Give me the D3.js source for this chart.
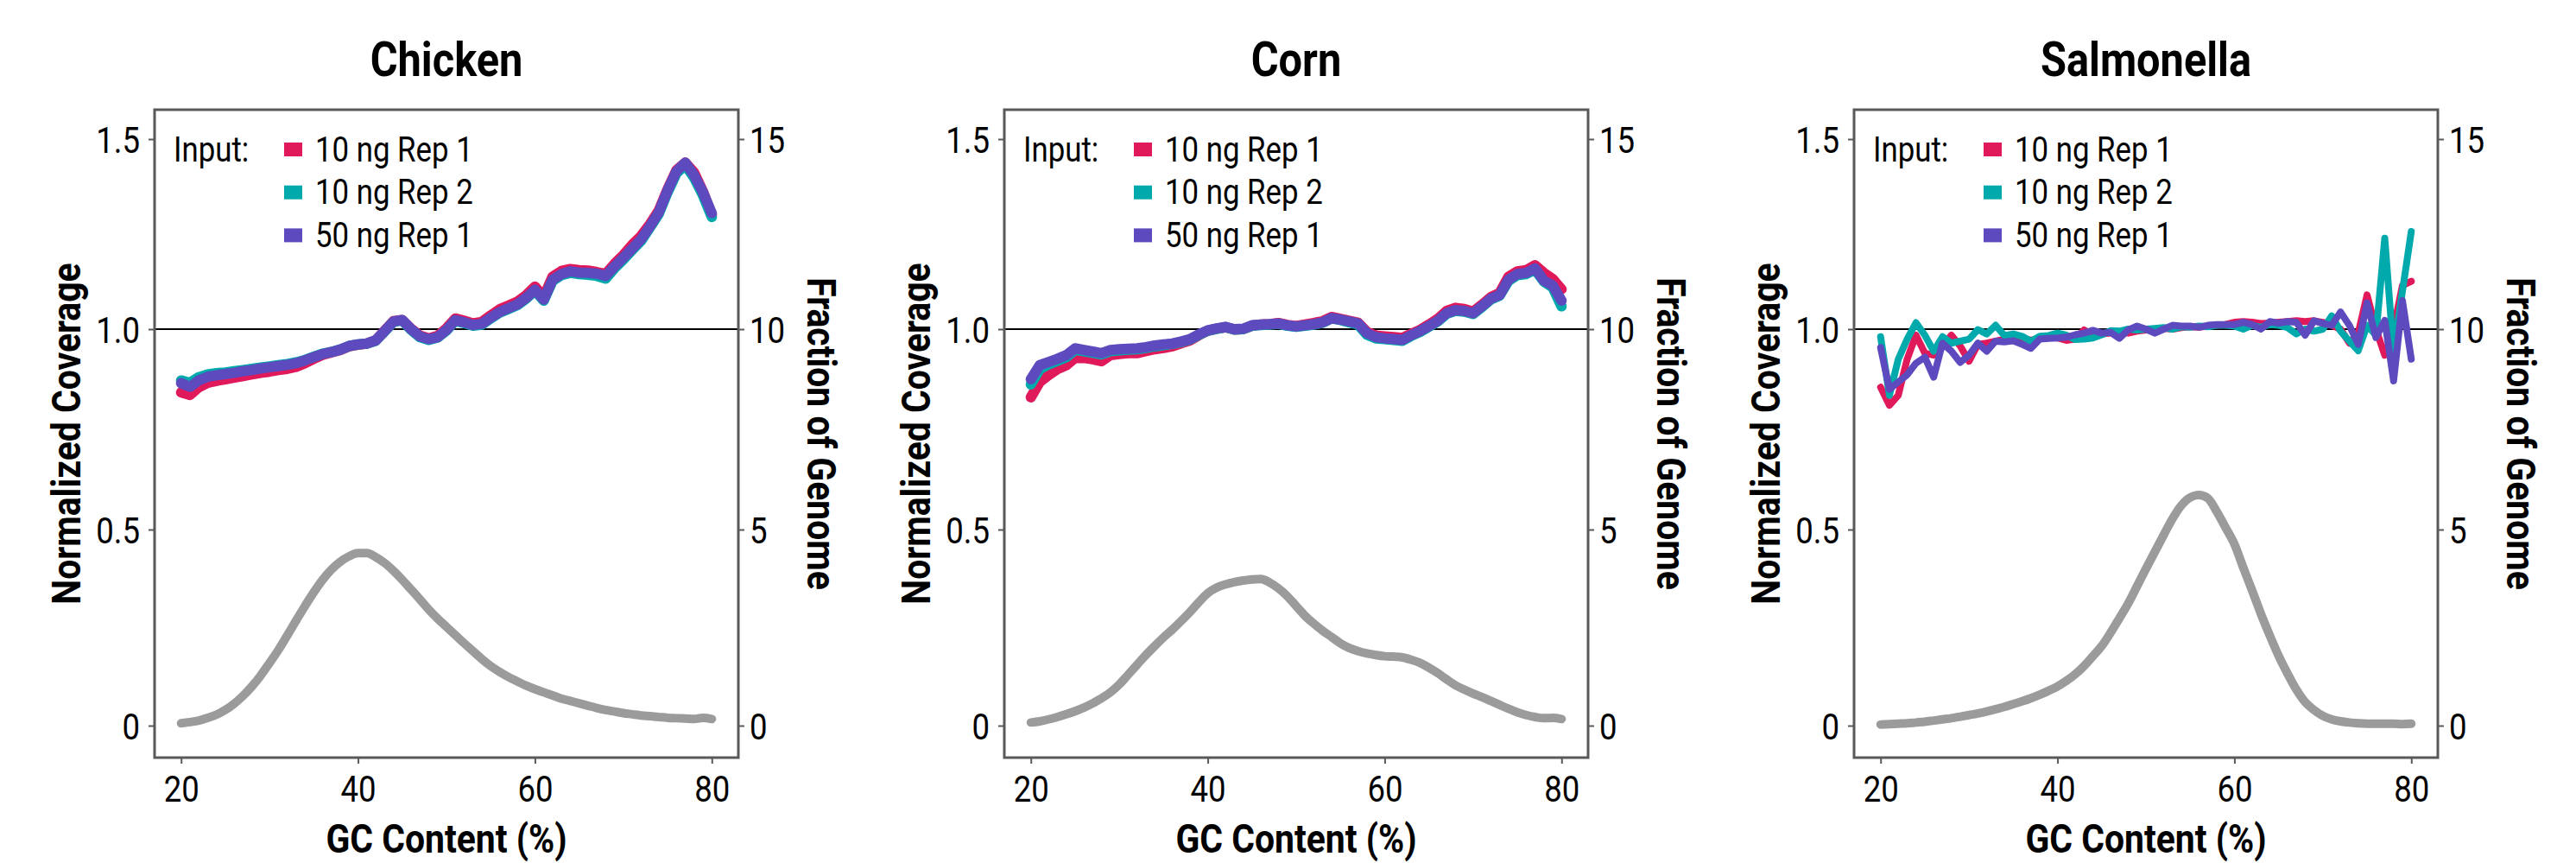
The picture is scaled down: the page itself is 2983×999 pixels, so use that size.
<!DOCTYPE html>
<html><head><meta charset="utf-8">
<script src="https://cdn.jsdelivr.net/npm/d3@7"></script>
<style>
body{margin:0;background:#fff}
text{font-family:Roboto,"Noto Sans",sans-serif;fill:#000}
</style>
</head><body>
<svg id="chart" width="2983" height="999"></svg>
<script>
// ---------- data ----------
const gcContent = [20,21,22,23,24,25,26,27,28,29,30,31,32,33,34,35,36,37,38,39,40,41,42,43,44,45,46,47,48,49,50,51,52,53,54,55,56,57,58,59,60,61,62,63,64,65,66,67,68,69,70,71,72,73,74,75,76,77,78,79,80];
const seriesNames = ["10 ng Rep 1","10 ng Rep 2","50 ng Rep 1"];
const seriesColors = ["#E0195A","#00A9AC","#5E4ABF"];
const panelTitles = ["Chicken","Corn","Salmonella"];
const leftTicks = [0,0.5,1.0,1.5];
const leftTickLabels = ["0","0.5","1.0","1.5"];
const rightTicks = [0,5,10,15];
const rightTickLabels = ["0","5","10","15"];
const bottomTicks = [20,40,60,80];
const bottomTickLabels = ["20","40","60","80"];

const chicken10Rep1 = [0.842,0.836,0.855,0.866,0.871,0.875,0.879,0.883,0.887,0.891,0.894,0.898,0.901,0.906,0.915,0.926,0.936,0.942,0.948,0.957,0.961,0.964,0.972,0.996,1.021,1.024,1.001,0.984,0.977,0.983,1.002,1.028,1.022,1.015,1.019,1.036,1.052,1.062,1.072,1.089,1.112,1.085,1.138,1.153,1.158,1.155,1.154,1.150,1.145,1.172,1.195,1.222,1.245,1.276,1.312,1.368,1.418,1.438,1.412,1.362,1.300];
const chicken10Rep2 = [0.872,0.866,0.880,0.887,0.890,0.892,0.895,0.898,0.901,0.904,0.907,0.910,0.913,0.917,0.923,0.931,0.939,0.943,0.949,0.958,0.962,0.964,0.971,0.994,1.019,1.023,0.998,0.980,0.973,0.979,0.996,1.022,1.016,1.009,1.012,1.028,1.043,1.053,1.063,1.080,1.101,1.075,1.127,1.142,1.148,1.145,1.143,1.140,1.133,1.160,1.183,1.208,1.232,1.267,1.303,1.360,1.410,1.432,1.398,1.352,1.295];
const chicken50Rep1 = [0.865,0.856,0.872,0.881,0.885,0.888,0.891,0.895,0.898,0.902,0.905,0.908,0.911,0.915,0.922,0.930,0.938,0.943,0.949,0.958,0.962,0.964,0.972,0.995,1.020,1.024,1.000,0.982,0.975,0.980,0.998,1.024,1.018,1.011,1.014,1.030,1.045,1.055,1.065,1.082,1.104,1.078,1.130,1.145,1.152,1.149,1.148,1.146,1.140,1.165,1.188,1.212,1.236,1.270,1.307,1.365,1.415,1.438,1.405,1.360,1.305];
const chickenGenome = [0.06,0.09,0.13,0.20,0.28,0.40,0.56,0.76,1.00,1.28,1.60,1.93,2.30,2.68,3.05,3.40,3.72,3.98,4.18,4.32,4.40,4.40,4.30,4.15,3.95,3.72,3.47,3.22,2.96,2.73,2.52,2.31,2.10,1.90,1.70,1.52,1.37,1.24,1.13,1.02,0.93,0.85,0.77,0.69,0.63,0.57,0.51,0.45,0.40,0.36,0.32,0.29,0.26,0.24,0.22,0.20,0.19,0.18,0.17,0.20,0.17];

const corn10Rep1 = [0.830,0.868,0.885,0.900,0.910,0.928,0.928,0.925,0.920,0.935,0.938,0.940,0.940,0.945,0.950,0.953,0.957,0.965,0.972,0.985,0.996,1.001,1.005,0.999,1.000,1.009,1.012,1.013,1.016,1.011,1.008,1.012,1.016,1.021,1.032,1.027,1.022,1.017,0.993,0.984,0.982,0.980,0.978,0.988,0.998,1.012,1.027,1.048,1.056,1.053,1.046,1.064,1.084,1.095,1.138,1.152,1.155,1.168,1.148,1.132,1.105];
const corn10Rep2 = [0.862,0.900,0.912,0.921,0.930,0.948,0.945,0.941,0.937,0.945,0.947,0.949,0.950,0.953,0.957,0.960,0.963,0.968,0.974,0.986,0.996,1.001,1.005,0.999,1.000,1.009,1.011,1.012,1.014,1.009,1.006,1.009,1.012,1.017,1.028,1.024,1.018,1.012,0.986,0.977,0.975,0.973,0.971,0.983,0.993,1.006,1.020,1.040,1.048,1.046,1.040,1.058,1.078,1.088,1.127,1.142,1.145,1.157,1.125,1.110,1.060];
const corn50Rep1 = [0.875,0.910,0.918,0.926,0.935,0.952,0.948,0.944,0.940,0.948,0.950,0.951,0.952,0.955,0.959,0.962,0.964,0.969,0.975,0.987,0.997,1.002,1.006,1.000,1.001,1.010,1.012,1.013,1.015,1.010,1.007,1.010,1.013,1.018,1.029,1.025,1.020,1.015,0.990,0.980,0.977,0.975,0.973,0.985,0.995,1.008,1.022,1.042,1.050,1.048,1.042,1.060,1.080,1.090,1.130,1.145,1.148,1.160,1.128,1.115,1.075];
const cornGenome = [0.08,0.11,0.16,0.22,0.29,0.37,0.46,0.57,0.70,0.85,1.05,1.30,1.55,1.80,2.03,2.25,2.45,2.67,2.90,3.15,3.38,3.52,3.60,3.66,3.70,3.73,3.74,3.65,3.50,3.30,3.05,2.80,2.60,2.42,2.26,2.10,1.98,1.90,1.84,1.80,1.77,1.76,1.74,1.68,1.60,1.48,1.34,1.18,1.03,0.92,0.82,0.73,0.63,0.53,0.43,0.34,0.27,0.22,0.19,0.20,0.17];

const salmonella10Rep1 = [0.855,0.810,0.835,0.925,0.985,0.940,0.935,0.955,0.985,0.958,0.920,0.962,0.965,0.970,0.975,0.978,0.977,0.972,0.977,0.980,0.978,0.972,0.975,0.998,0.985,0.988,0.990,0.993,0.990,0.995,0.998,1.000,1.002,1.000,1.004,1.006,1.005,1.008,1.010,1.012,1.018,1.020,1.018,1.015,1.016,1.018,1.020,1.022,1.020,1.022,1.018,1.010,1.000,0.965,0.990,1.090,1.000,0.935,1.000,1.115,1.126];
const salmonella10Rep2 = [0.981,0.835,0.925,0.975,1.017,0.985,0.945,0.981,0.965,0.970,0.975,0.999,0.988,1.010,0.984,0.988,0.982,0.970,0.982,0.984,0.990,0.985,0.974,0.975,0.978,0.986,0.996,0.995,1.000,0.998,1.000,1.002,1.004,1.000,1.006,1.005,1.008,1.006,1.010,1.010,1.008,1.000,1.010,1.005,1.012,1.010,1.004,0.988,1.000,0.995,1.000,1.035,0.995,0.970,0.946,1.010,0.985,1.239,0.940,1.100,1.257];
const salmonella50Rep1 = [0.954,0.850,0.868,0.886,0.915,0.930,0.880,0.965,0.945,0.917,0.935,0.965,0.945,0.970,0.968,0.971,0.962,0.952,0.975,0.977,0.978,0.980,0.986,0.990,0.997,0.990,0.992,0.977,0.998,1.008,1.000,0.990,1.000,1.010,1.008,1.008,1.005,1.010,1.012,1.012,1.012,1.018,1.012,1.000,1.020,1.016,1.020,1.018,0.985,1.022,1.015,1.010,1.045,1.010,0.962,1.069,0.979,1.023,0.871,1.075,0.925];
const salmonellaGenome = [0.03,0.04,0.05,0.06,0.08,0.10,0.13,0.16,0.19,0.23,0.27,0.31,0.36,0.42,0.48,0.55,0.62,0.70,0.79,0.89,1.00,1.14,1.31,1.52,1.77,2.03,2.37,2.74,3.12,3.56,4.00,4.43,4.86,5.27,5.60,5.80,5.86,5.78,5.45,5.05,4.63,4.03,3.45,2.85,2.30,1.78,1.33,0.92,0.60,0.40,0.25,0.16,0.11,0.08,0.06,0.05,0.05,0.05,0.05,0.04,0.05];

const panelSeries = [
  [chicken10Rep1, chicken10Rep2, chicken50Rep1],
  [corn10Rep1, corn10Rep2, corn50Rep1],
  [salmonella10Rep1, salmonella10Rep2, salmonella50Rep1]
];
const panelGenome = [chickenGenome, cornGenome, salmonellaGenome];

// ---------- layout ----------
const W = 2983, H = 999;
const frameW = 676, frameTop = 127, frameBottom = 877;
const panelLeft0 = 179, panelStep = 984;
const COND = 0.87;            // horizontal condensing of the Roboto glyphs
const lineWidths = [12, 12, 8];
const tickFont = 42;
const tickPixels = [840, 613, 381, 161];   // pixel rows of the tick values (as placed in the original)

const svg = d3.select("#chart");
svg.append("rect").attr("width", W).attr("height", H).attr("fill", "#fff");

const x = d3.scaleLinear().domain([17, 83]).range([0, frameW]);
const yL = d3.scaleLinear().domain(leftTicks).range(tickPixels);
const yR = d3.scaleLinear().domain(rightTicks).range(tickPixels);

function ctext(g, tx, ty, str, size, weight, anchor, rot) {
  return g.append("text")
    .attr("transform", `translate(${tx},${ty}) rotate(${rot || 0}) scale(${COND},1)`)
    .attr("text-anchor", anchor || "start")
    .style("font-size", size + "px")
    .style("font-weight", weight || 400)
    .text(str);
}

panelTitles.forEach((title, pi) => {
  const L = panelLeft0 + pi * panelStep;
  const g = svg.append("g").attr("transform", `translate(${L},0)`);

  // title
  ctext(g, frameW / 2, 88, title, 56, 700, "middle");

  // reference line at 1.0
  g.append("line")
    .attr("x1", 0).attr("x2", frameW)
    .attr("y1", yL(1)).attr("y2", yL(1))
    .attr("stroke", "#000").attr("stroke-width", 2);

  // genome fraction (right axis)
  const gLine = d3.line()
    .x((d, i) => x(gcContent[i]))
    .y(d => yR(d))
    .curve(d3.curveMonotoneX);
  g.append("path")
    .datum(panelGenome[pi])
    .attr("d", gLine)
    .attr("fill", "none")
    .attr("stroke", "#9B9B9B")
    .attr("stroke-width", 10)
    .attr("stroke-linecap", "round")
    .attr("stroke-linejoin", "round");

  // coverage series
  const cLine = d3.line()
    .x((d, i) => x(gcContent[i]))
    .y(d => yL(d));
  panelSeries[pi].forEach((s, si) => {
    g.append("path")
      .datum(s)
      .attr("d", cLine)
      .attr("fill", "none")
      .attr("stroke", seriesColors[si])
      .attr("stroke-width", lineWidths[pi])
      .attr("stroke-linecap", "round")
      .attr("stroke-linejoin", "round");
  });

  // frame
  g.append("rect")
    .attr("x", 0).attr("y", frameTop)
    .attr("width", frameW).attr("height", frameBottom - frameTop)
    .attr("fill", "none").attr("stroke", "#595959").attr("stroke-width", 3);

  // left axis
  const axL = g.append("g").call(
    d3.axisLeft(yL).tickValues(leftTicks).tickSize(7)
      .tickFormat((d, i) => leftTickLabels[i]));
  axL.select(".domain").remove();
  axL.selectAll(".tick line").attr("stroke", "#595959").attr("stroke-width", 2);
  axL.selectAll(".tick text")
    .attr("x", -17 / COND).attr("dy", "0.36em")
    .attr("transform", `scale(${COND},1)`)
    .style("font-size", tickFont + "px").style("font-family", "Roboto").attr("fill", "#000");

  // right axis
  const axR = g.append("g").attr("transform", `translate(${frameW},0)`).call(
    d3.axisRight(yR).tickValues(rightTicks).tickSize(7)
      .tickFormat((d, i) => rightTickLabels[i]));
  axR.select(".domain").remove();
  axR.selectAll(".tick line").attr("stroke", "#595959").attr("stroke-width", 2);
  axR.selectAll(".tick text")
    .attr("x", 13 / COND).attr("dy", "0.36em")
    .attr("transform", `scale(${COND},1)`)
    .style("font-size", tickFont + "px").style("font-family", "Roboto").attr("fill", "#000");

  // bottom axis
  const axB = g.append("g").attr("transform", `translate(0,${frameBottom})`).call(
    d3.axisBottom(x).tickValues(bottomTicks).tickSize(7)
      .tickFormat((d, i) => bottomTickLabels[i]));
  axB.select(".domain").remove();
  axB.selectAll(".tick line").attr("stroke", "#595959").attr("stroke-width", 2);
  axB.selectAll(".tick text")
    .attr("y", 51).attr("dy", 0)
    .attr("transform", `scale(${COND},1)`)
    .style("font-size", tickFont + "px").style("font-family", "Roboto").attr("fill", "#000");

  // axis titles
  ctext(g, frameW / 2, 987, "GC Content (%)", 47, 700, "middle");
  ctext(g, -86, (frameTop + frameBottom) / 2, "Normalized Coverage", 47, 700, "middle", -90);
  ctext(g, frameW + 80, (frameTop + frameBottom) / 2, "Fraction of Genome", 47, 700, "middle", 90);

  // legend
  ctext(g, 22, 186.5, "Input:", 40, 400, "start");
  seriesNames.forEach((name, si) => {
    const base = 186.5 + si * 49.7;
    g.append("rect")
      .attr("x", 150).attr("y", base - 21.5)
      .attr("width", 21).attr("height", 16)
      .attr("fill", seriesColors[si]);
    ctext(g, 186, base, name, 40, 400, "start");
  });
});
</script>
</body></html>
